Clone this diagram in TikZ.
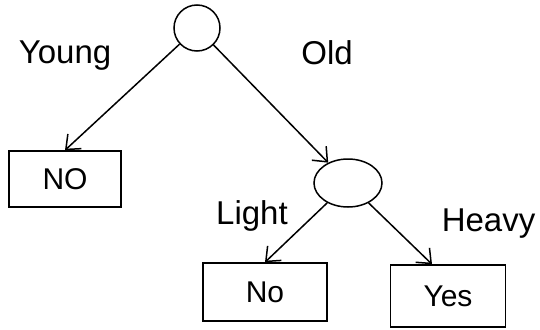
\documentclass[tikz,border=0pt]{standalone}
\usepackage{fontspec}
\setmainfont{Liberation Sans}
\usetikzlibrary{arrows.meta,shapes.geometric,calc}
\begin{document}
\begin{tikzpicture}[x=1pt,y=-1pt,
  line width=1.5pt,
  decision/.style={draw,ellipse,inner sep=0pt},
  leafbox/.style={draw,rectangle,inner sep=0pt,font=\fontsize{30}{32}\selectfont},
  branchlabel/.style={font=\fontsize{33}{35}\selectfont,inner sep=0pt},
  edge/.style={-{Straight Barb[length=12pt,width=20pt]}}]
\useasboundingbox[fill=white] (0,0) rectangle (540,329);
\node[decision,minimum width=46pt,minimum height=46pt] (root) at (197,28) {};
\node[decision,minimum width=68pt,minimum height=48pt] (c2) at (348,183) {};
\node[leafbox,minimum width=112pt,minimum height=56pt] (no1) at (65,179) {NO};
\node[leafbox,minimum width=124pt,minimum height=58pt] (no2) at (265,292) {No};
\node[leafbox,minimum width=115pt,minimum height=62pt] (yes) at (448,296) {Yes};
\node[branchlabel] (young) at (65,56) {Young};
\node[branchlabel] (old) at (327,53) {Old};
\node[branchlabel] (light) at (252,216) {Light};
\node[branchlabel,anchor=west] (heavy) at (441,224) {Heavy};
\coordinate (yestip) at ($(yes.north)+(-16,0)$);
\draw[edge] (root) -- (no1.north);
\draw[edge] (root) -- (c2);
\draw[edge] (c2) -- (no2.north);
\draw[edge] (c2) -- (yestip);
\end{tikzpicture}
\end{document}
